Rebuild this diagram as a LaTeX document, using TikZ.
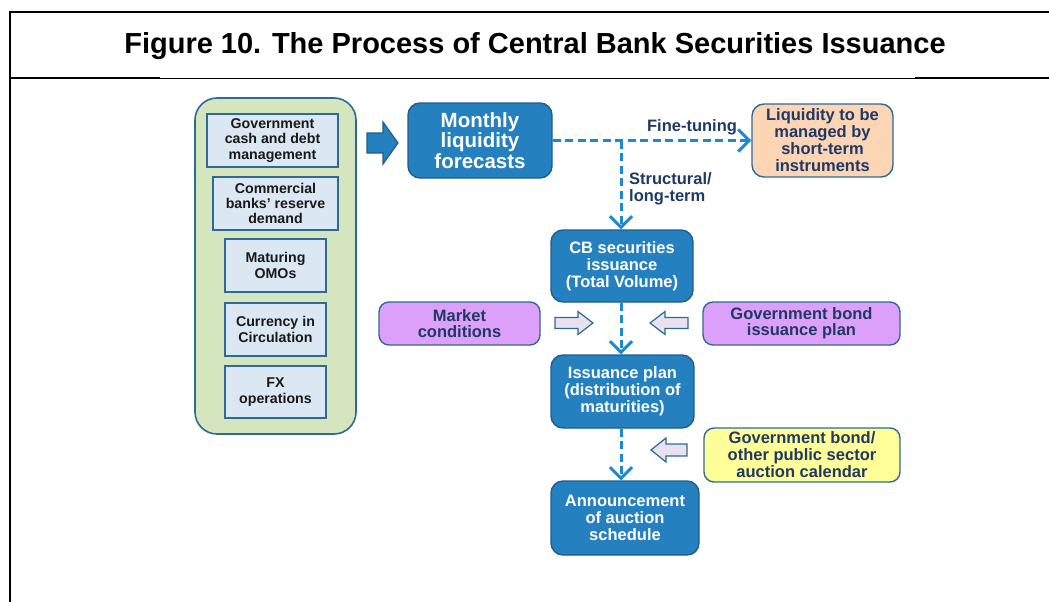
\documentclass[tikz,border=0pt]{standalone}
\usepackage{fontspec}
\setmainfont{Liberation Sans}
\usetikzlibrary{arrows.meta}
\definecolor{navy}{HTML}{1F3864}
\definecolor{boxblue}{HTML}{2580C0}
\definecolor{boxedge}{HTML}{1E5D8C}
\definecolor{dashblue}{HTML}{1E88D0}
\definecolor{greenfill}{HTML}{D5E5BD}
\definecolor{edgeblue}{HTML}{2D6A96}
\definecolor{lightblue}{HTML}{DBE7F3}
\definecolor{peach}{HTML}{FCD5B4}
\definecolor{violet}{HTML}{DDA0FA}
\definecolor{paleyellow}{HTML}{FFFF99}
\definecolor{lavender}{HTML}{E9E1EE}
\tikzset{
  inbox/.style={draw=edgeblue, line width=1.4pt, fill=lightblue, inner sep=0pt, align=center,
    text=black!90, font=\fontsize{14.2}{15.3}\selectfont\bfseries},
  bluebox/.style={draw=boxedge, line width=1.4pt, fill=boxblue, rounded corners=12pt, inner sep=0pt,
    align=center, text=white, font=\fontsize{16.5}{17}\selectfont\bfseries},
  colbox/.style={draw=edgeblue, line width=1.4pt, rounded corners=10pt, inner sep=0pt,
    align=center, text=navy, font=\fontsize{16.5}{17}\selectfont\bfseries},
  lbl/.style={text=navy, inner sep=0pt, align=left, font=\fontsize{16.5}{17}\selectfont\bfseries},
  dashconn/.style={draw=dashblue, line width=3pt, dash pattern=on 8pt off 4.5pt},
  tipped/.style={-{Straight Barb[length=11pt 0 0,width=22pt 0 0]}},
  hollowarrow/.style={draw=edgeblue, line width=1.2pt, fill=lavender},
}
\begin{document}
\begin{tikzpicture}[x=1pt,y=-1pt]
\useasboundingbox (0,0) rectangle (1049,602);
% frame
\draw[line width=2pt] (9,12) -- (1049,12);
\draw[line width=2.5pt] (10,11) -- (10,602);
\draw[line width=2pt] (9,78) -- (160,78);
\draw[line width=1pt] (160,78) -- (915,78);
\draw[line width=2pt] (915,78) -- (1049,78);
\node[font=\fontsize{29}{30}\selectfont\bfseries, inner sep=0pt] (title) at (535,46)
  {Figure 10. The Process of Central Bank Securities Issuance};
% green container
\node[draw=edgeblue, line width=1.6pt, fill=greenfill, rounded corners=22pt,
  minimum width=161pt, minimum height=336pt, inner sep=0pt] (cont) at (275.5,266) {};
\node[inbox, minimum width=131pt, minimum height=53pt] (g1) at (272.5,140.5)
  {Government\\cash and debt\\management};
\node[inbox, minimum width=125pt, minimum height=53pt] (g2) at (275.5,203.5)
  {Commercial\\banks' reserve\\demand};
\node[inbox, minimum width=101pt, minimum height=53pt] (g3) at (275.5,265.5)
  {Maturing\\OMOs};
\node[inbox, minimum width=101pt, minimum height=53pt] (g4) at (275.5,329.5)
  {Currency in\\Circulation};
\node[inbox, minimum width=101pt, minimum height=52pt] (g5) at (275.5,392)
  {FX\\operations};
% big block arrow
\draw[draw=boxedge, line width=1.2pt, fill=boxblue]
  (367,133) -- (383,133) -- (383,122) -- (398,143) -- (383,164) -- (383,153) -- (367,153) -- cycle;
% main boxes
\node[bluebox, minimum width=144pt, minimum height=75pt, font=\fontsize{20.5}{20.5}\selectfont\bfseries]
  (monthly) at (480,140.5) {Monthly\\liquidity\\forecasts};
\node[colbox, fill=peach, minimum width=141pt, minimum height=73pt, rounded corners=12pt]
  (liq) at (822.5,140.5) {Liquidity to be\\managed by\\short-term\\instruments};
\node[bluebox, minimum width=142pt, minimum height=72pt] (cb) at (622,266)
  {CB securities\\issuance\\(Total Volume)};
\node[colbox, fill=violet, minimum width=161pt, minimum height=43pt, font=\fontsize{16.5}{16}\selectfont\bfseries]
  (market) at (459.5,323.5) {Market\\conditions};
\node[colbox, fill=violet, minimum width=197pt, minimum height=43pt, font=\fontsize{16.5}{16}\selectfont\bfseries]
  (govplan) at (801.5,323.5) {Government bond\\issuance plan};
\node[bluebox, minimum width=143pt, minimum height=73pt] (issue) at (622.5,391.5)
  {Issuance plan\\(distribution of\\maturities)};
\node[colbox, fill=paleyellow, minimum width=196pt, minimum height=54pt]
  (calendar) at (802,455) {Government bond/\\other public sector\\auction calendar};
\node[bluebox, minimum width=148pt, minimum height=74pt] (announce) at (625,518)
  {Announcement\\of auction\\schedule};
% dashed connectors
\coordinate (br) at (monthly.east -| 621,0);
\draw[dashconn, tipped] (monthly.east) -- (liq.west);
\draw[dashconn, tipped] (br) -- (br |- cb.north);
\draw[dashconn, tipped] (br |- cb.south) -- (br |- issue.north);
\draw[dashconn, tipped] (br |- issue.south) -- (br |- announce.north);
% labels
\node[lbl, anchor=base] (fine) at (692,131) {Fine-tuning};
\node[lbl, anchor=north west] (struct) at (629,172) {Structural/\\long-term};
% hollow arrows
\draw[hollowarrow] (555,317.5) -- (578,317.5) -- (578,311.5) -- (593,323) -- (578,334.5) -- (578,328.5) -- (555,328.5) -- cycle;
\draw[hollowarrow] (688,317.5) -- (665,317.5) -- (665,311.5) -- (650,323) -- (665,334.5) -- (665,328.5) -- (688,328.5) -- cycle;
\draw[hollowarrow] (687,444) -- (666,444) -- (666,438) -- (651,450) -- (666,462) -- (666,456) -- (687,456) -- cycle;
\end{tikzpicture}
\end{document}
